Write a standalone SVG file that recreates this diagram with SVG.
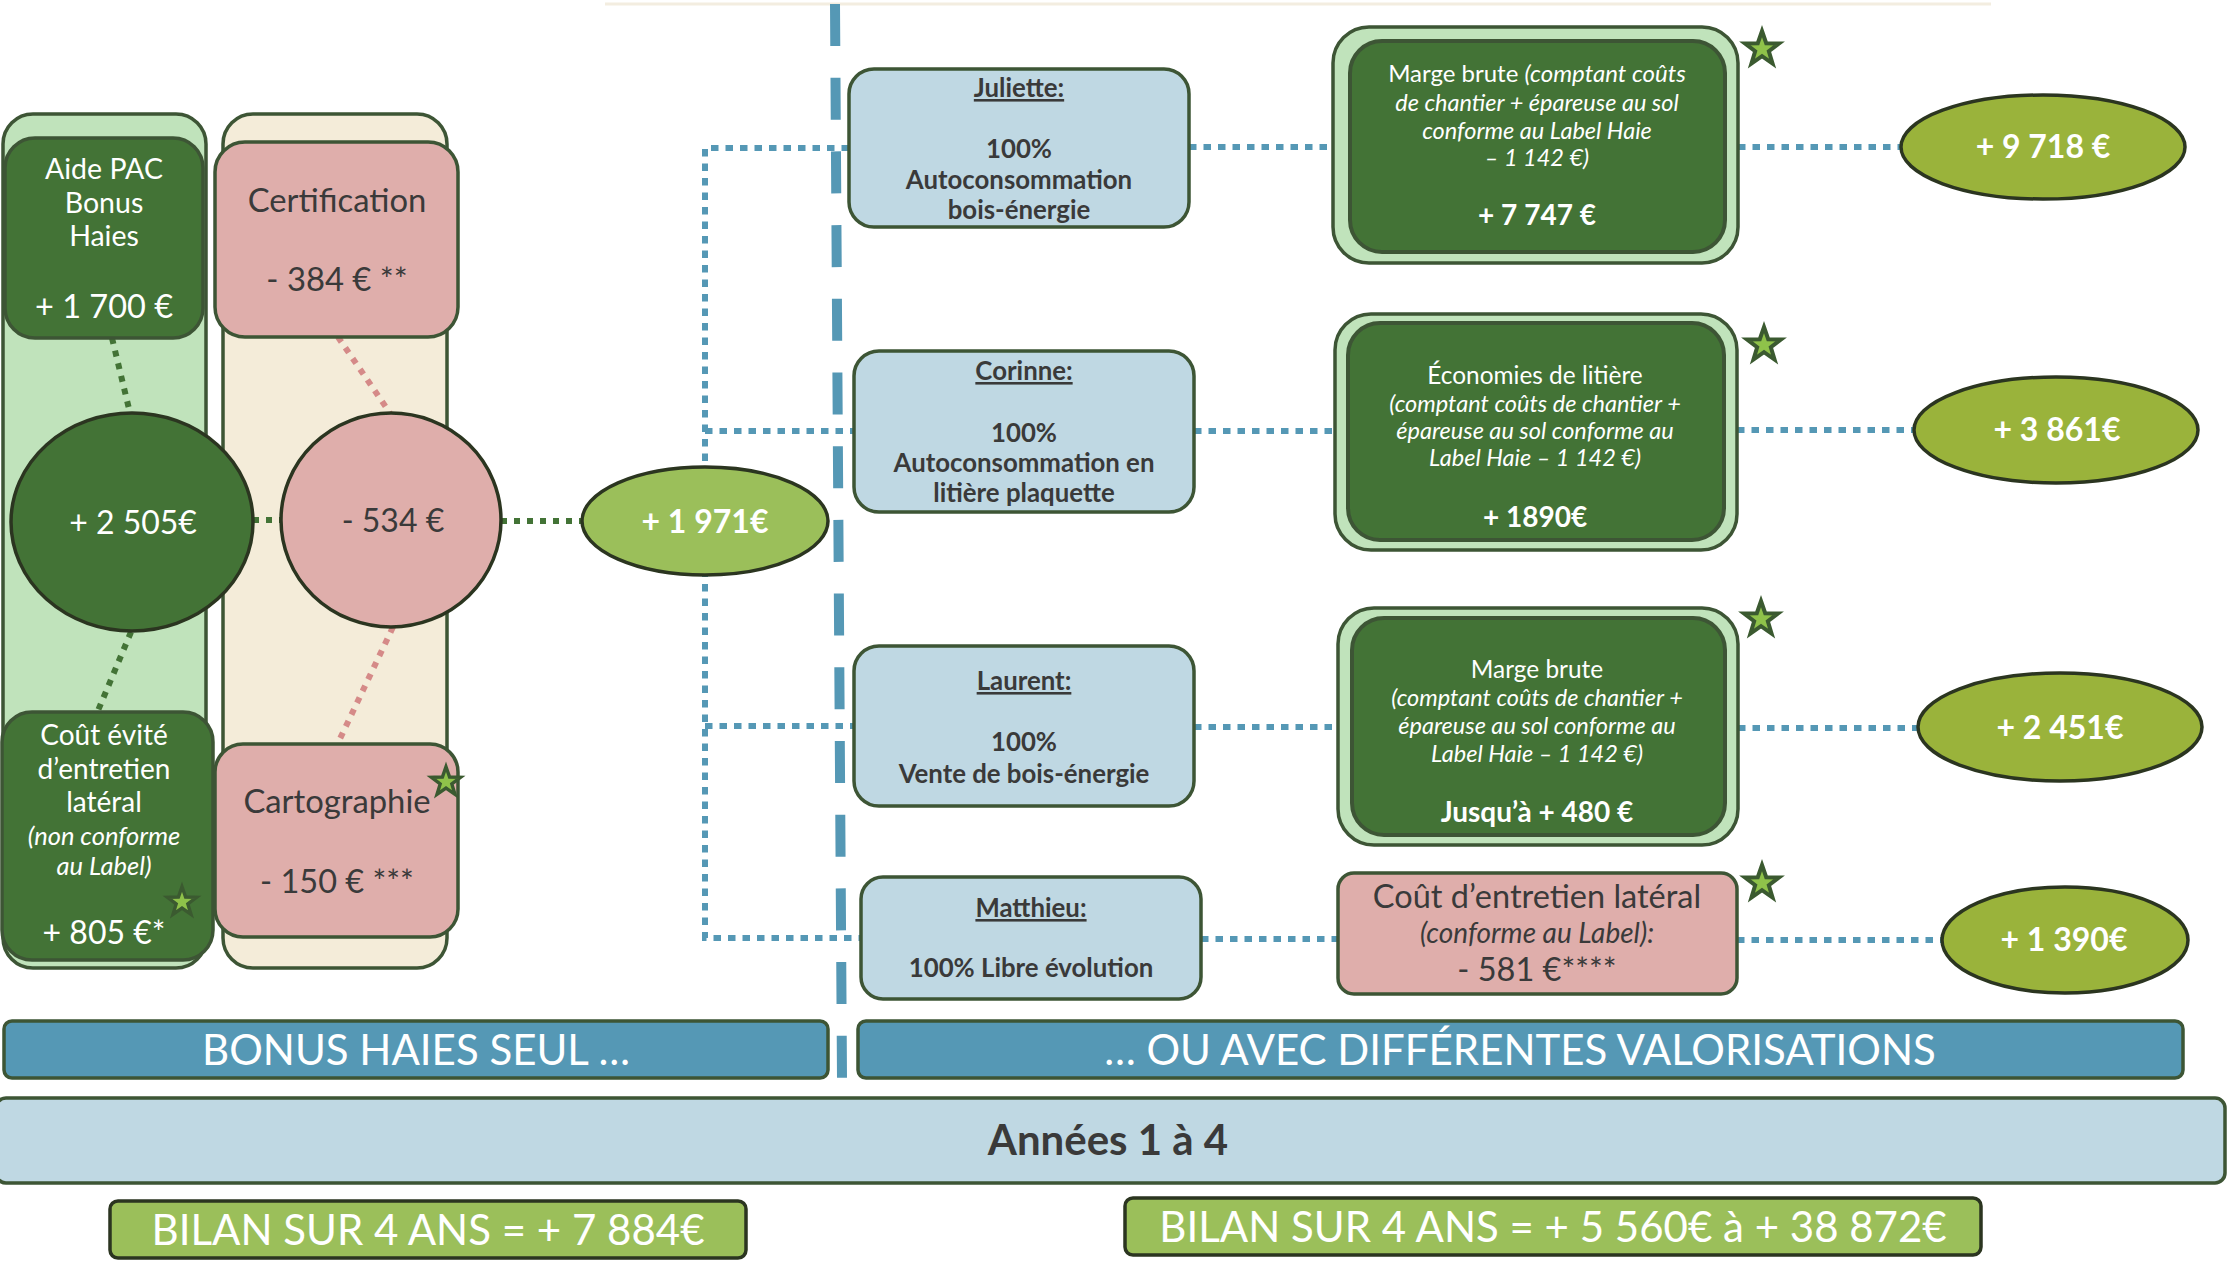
<svg xmlns="http://www.w3.org/2000/svg" xmlns:xlink="http://www.w3.org/1999/xlink" width="2228" height="1263" viewBox="0 0 2228 1263">
<style>
text{font-family:Lato,"Liberation Sans",sans-serif;text-anchor:middle}
.w{fill:#ffffff}
.d{fill:#3a3a3a}
.b{font-weight:bold}
.i{font-style:italic}
.u{text-decoration:underline}
.dg{fill:#437336}
.lg{fill:#c0e3bb}
.pk{fill:#dfaeab}
.bg{fill:#f4ecd9}
.lb{fill:#bfd8e3}
.bl{fill:#5598b5}
.ol{fill:#9ab33b;stroke:#2b3520;stroke-width:3.5}
.ol2{fill:#9bbf5a;stroke:#2b3520;stroke-width:3.5}
.cir{stroke:#2b3520;stroke-width:3.5}
.gd{stroke:#437336;stroke-width:6;stroke-dasharray:6 7;fill:none}
.pd{stroke:#d58a88;stroke-width:6;stroke-dasharray:6 7;fill:none}
.bd{stroke:#5598b5;stroke-width:6;stroke-dasharray:7.5 7;fill:none}
.star{fill:#8fc24a;stroke:#3b5a30;stroke-width:4;stroke-linejoin:miter}
</style>
<defs>
<polygon id="star" points="0,-18 4.23,-5.82 17.12,-5.56 6.85,2.22 10.58,14.56 0,7.2 -10.58,14.56 -6.85,2.22 -17.12,-5.56 -4.23,-5.82"/>
</defs>
<rect width="2228" height="1263" fill="#ffffff"/>
<line x1="605" y1="4" x2="1991" y2="4" stroke="#f3ede0" stroke-width="3"/>

<g id="columns">
<rect class="lg" x="3" y="114" width="203" height="854" rx="30" stroke="#3d5535" stroke-width="3.5"/>
<rect class="bg" x="223" y="114" width="224" height="854" rx="30" stroke="#3d5535" stroke-width="3.5"/>
</g>

<g id="separator">
<line x1="835" y1="4" x2="842" y2="1078" stroke="#5598b5" stroke-width="10" stroke-dasharray="42 31.7"/>
</g>

<g id="connectors">
<line class="gd" x1="112" y1="338" x2="130" y2="413"/>
<line class="gd" x1="131" y1="632" x2="97" y2="713"/>
<line class="gd" x1="253" y1="520" x2="282" y2="520"/>
<line class="gd" x1="501" y1="521" x2="583" y2="521"/>
<line class="pd" x1="338" y1="337" x2="390" y2="413"/>
<line class="pd" x1="393" y1="627" x2="337" y2="745"/>
<polyline class="bd" points="849,148 705,148 705,938 861,938"/>
<line class="bd" x1="705" y1="431" x2="854" y2="431"/>
<line class="bd" x1="705" y1="726" x2="854" y2="726"/>
<line class="bd" x1="1189" y1="147" x2="1333" y2="147"/>
<line class="bd" x1="1738" y1="147" x2="1901" y2="147"/>
<line class="bd" x1="1194" y1="431" x2="1335" y2="431"/>
<line class="bd" x1="1737" y1="430" x2="1915" y2="430"/>
<line class="bd" x1="1194" y1="727" x2="1338" y2="727"/>
<line class="bd" x1="1738" y1="728" x2="1918" y2="728"/>
<line class="bd" x1="1201" y1="939" x2="1338" y2="939"/>
<line class="bd" x1="1737" y1="940" x2="1942" y2="940"/>
</g>

<g id="aide-pac">
<rect class="dg" x="5" y="138" width="198" height="200" rx="30" stroke="#3d5535" stroke-width="3.5"/>
<text class="w" x="104" y="179" font-size="28.5">Aide PAC</text>
<text class="w" x="104" y="213" font-size="28.5">Bonus</text>
<text class="w" x="104" y="246" font-size="28.5">Haies</text>
<text class="w" x="104" y="318" font-size="32.5">+ 1 700 €</text>
</g>

<g id="certification">
<rect class="pk" x="215" y="142" width="243" height="195" rx="30" stroke="#3d5535" stroke-width="3.5"/>
<text class="d" x="337" y="212" font-size="32.8">Certification</text>
<text class="d" x="337" y="291" font-size="32.8">- 384 € **</text>
</g>

<g id="total-bonus">
<ellipse class="dg cir" cx="132" cy="522" rx="121" ry="109"/>
<text class="w" x="133" y="534" font-size="32">+ 2 505€</text>
</g>

<g id="total-couts">
<ellipse class="pk cir" cx="391" cy="520" rx="110" ry="107"/>
<text class="d" x="393" y="532" font-size="32">- 534 €</text>
</g>

<g id="cout-evite">
<rect class="dg" x="2" y="712" width="211" height="248" rx="30" stroke="#3d5535" stroke-width="3.5"/>
<text class="w" x="104" y="745" font-size="28">Coût évité</text>
<text class="w" x="104" y="779" font-size="28">d’entretien</text>
<text class="w" x="104" y="812" font-size="28">latéral</text>
<text class="w i" x="104" y="845" font-size="25.5">(non conforme</text>
<text class="w i" x="104" y="875" font-size="25.5">au Label)</text>
<text class="w" x="104" y="944" font-size="32">+ 805 €*</text>
<use href="#star" class="star" transform="translate(182,902) scale(0.85)"/>
</g>

<g id="cartographie">
<rect class="pk" x="215" y="744" width="243" height="193" rx="28" stroke="#3d5535" stroke-width="3.5"/>
<text class="d" x="337" y="813" font-size="32.8">Cartographie</text>
<text class="d" x="337" y="893" font-size="32.5">- 150 € ***</text>
<use href="#star" class="star" transform="translate(446,782) scale(0.85)"/>
</g>

<g id="bilan-seul">
<ellipse class="ol2" cx="705" cy="521" rx="123" ry="54"/>
<text class="w b" x="705" y="533" font-size="32">+ 1 971€</text>
</g>

<g id="juliette">
<rect class="lb" x="849" y="69" width="340" height="158" rx="25" stroke="#3d5535" stroke-width="3.5"/>
<text class="d b u" x="1019" y="97" font-size="25.8">Juliette:</text>
<text class="d b" x="1019" y="158" font-size="25.8">100%</text>
<text class="d b" x="1019" y="189" font-size="25.8">Autoconsommation</text>
<text class="d b" x="1019" y="219" font-size="25.8">bois-énergie</text>
</g>

<g id="corinne">
<rect class="lb" x="854" y="351" width="340" height="161" rx="25" stroke="#3d5535" stroke-width="3.5"/>
<text class="d b u" x="1024" y="380" font-size="25.8">Corinne:</text>
<text class="d b" x="1024" y="442" font-size="25.8">100%</text>
<text class="d b" x="1024" y="472" font-size="25.8">Autoconsommation en</text>
<text class="d b" x="1024" y="502" font-size="25.8">litière plaquette</text>
</g>

<g id="laurent">
<rect class="lb" x="854" y="646" width="340" height="160" rx="25" stroke="#3d5535" stroke-width="3.5"/>
<text class="d b u" x="1024" y="690" font-size="25.8">Laurent:</text>
<text class="d b" x="1024" y="751" font-size="25.8">100%</text>
<text class="d b" x="1024" y="783" font-size="25.8">Vente de bois-énergie</text>
</g>

<g id="matthieu">
<rect class="lb" x="861" y="877" width="340" height="122" rx="22" stroke="#3d5535" stroke-width="3.5"/>
<text class="d b u" x="1031" y="917" font-size="25.8">Matthieu:</text>
<text class="d b" x="1031" y="977" font-size="25.8">100% Libre évolution</text>
</g>

<g id="marge-juliette">
<rect class="lg" x="1333" y="27" width="405" height="236" rx="36" stroke="#3d5535" stroke-width="3.5"/>
<rect class="dg" x="1350" y="41" width="375" height="211" rx="32" stroke="#3d5535" stroke-width="4"/>
<text class="w" x="1537" y="82" font-size="24">Marge brute <tspan class="i">(comptant coûts</tspan></text>
<text class="w i" x="1537" y="111" font-size="23.5">de chantier + épareuse au sol</text>
<text class="w i" x="1537" y="139" font-size="23.5">conforme au Label Haie</text>
<text class="w i" x="1537" y="166" font-size="23.5">– 1 142 €)</text>
<text class="w b" x="1537" y="225" font-size="28">+ 7 747 €</text>
<use href="#star" class="star" x="1762" y="49"/>
</g>

<g id="litiere-corinne">
<rect class="lg" x="1335" y="314" width="402" height="236" rx="36" stroke="#3d5535" stroke-width="3.5"/>
<rect class="dg" x="1348" y="323" width="376" height="217" rx="32" stroke="#3d5535" stroke-width="4"/>
<text class="w" x="1535" y="384" font-size="24.4">Économies de litière</text>
<text class="w i" x="1535" y="412" font-size="23.5">(comptant coûts de chantier +</text>
<text class="w i" x="1535" y="439" font-size="23.5">épareuse au sol conforme au</text>
<text class="w i" x="1535" y="466" font-size="23.5">Label Haie – 1 142 €)</text>
<text class="w b" x="1535" y="527" font-size="28">+ 1890€</text>
<use href="#star" class="star" x="1764" y="345"/>
</g>

<g id="marge-laurent">
<rect class="lg" x="1338" y="608" width="400" height="237" rx="36" stroke="#3d5535" stroke-width="3.5"/>
<rect class="dg" x="1352" y="618" width="373" height="217" rx="32" stroke="#3d5535" stroke-width="4"/>
<text class="w" x="1537" y="678" font-size="24.4">Marge brute</text>
<text class="w i" x="1537" y="706" font-size="23.5">(comptant coûts de chantier +</text>
<text class="w i" x="1537" y="734" font-size="23.5">épareuse au sol conforme au</text>
<text class="w i" x="1537" y="762" font-size="23.5">Label Haie – 1 142 €)</text>
<text class="w b" x="1537" y="822" font-size="28">Jusqu’à + 480 €</text>
<use href="#star" class="star" x="1761" y="619"/>
</g>

<g id="cout-matthieu">
<rect class="pk" x="1338" y="873" width="399" height="121" rx="16" stroke="#3d5535" stroke-width="3.5"/>
<text class="d" x="1537" y="908" font-size="32.5">Coût d’entretien latéral</text>
<text class="d i" x="1537" y="943" font-size="28">(conforme au Label):</text>
<text class="d" x="1537" y="981" font-size="32.5">- 581 €****</text>
<use href="#star" class="star" x="1762" y="883"/>
</g>

<g id="total-juliette">
<ellipse class="ol" cx="2043" cy="147" rx="142" ry="52"/>
<text class="w b" x="2043" y="158" font-size="32">+ 9 718 €</text>
</g>
<g id="total-corinne">
<ellipse class="ol" cx="2056" cy="430" rx="142" ry="53"/>
<text class="w b" x="2057" y="441" font-size="32">+ 3 861€</text>
</g>
<g id="total-laurent">
<ellipse class="ol" cx="2060" cy="727" rx="142" ry="54"/>
<text class="w b" x="2060" y="739" font-size="32">+ 2 451€</text>
</g>
<g id="total-matthieu">
<ellipse class="ol" cx="2065" cy="940" rx="123" ry="53"/>
<text class="w b" x="2064" y="951" font-size="32">+ 1 390€</text>
</g>

<g id="bandeau-seul">
<rect class="bl" x="4" y="1021" width="824" height="57" rx="8" stroke="#3d5535" stroke-width="3.5"/>
<text class="w" x="416" y="1065" font-size="42">BONUS HAIES SEUL …</text>
</g>
<g id="bandeau-valorisations">
<rect class="bl" x="858" y="1021" width="1325" height="57" rx="8" stroke="#3d5535" stroke-width="3.5"/>
<text class="w" x="1520" y="1065" font-size="42">… OU AVEC DIFFÉRENTES VALORISATIONS</text>
</g>
<g id="annees">
<rect class="lb" x="-4" y="1098" width="2229" height="85" rx="10" stroke="#3d5535" stroke-width="3.5"/>
<text class="d b" x="1108" y="1155" font-size="42">Années 1 à 4</text>
</g>
<g id="bilan-gauche">
<rect class="ol2" x="110" y="1201" width="636" height="57" rx="8" stroke="#3d5535" stroke-width="3.5"/>
<text class="w" x="428" y="1245" font-size="42">BILAN SUR 4 ANS = + 7 884€</text>
</g>
<g id="bilan-droite">
<rect class="ol2" x="1125" y="1198" width="856" height="57" rx="8" stroke="#3d5535" stroke-width="3.5"/>
<text class="w" x="1553" y="1242" font-size="42">BILAN SUR 4 ANS = + 5 560€ à + 38 872€</text>
</g>
</svg>
